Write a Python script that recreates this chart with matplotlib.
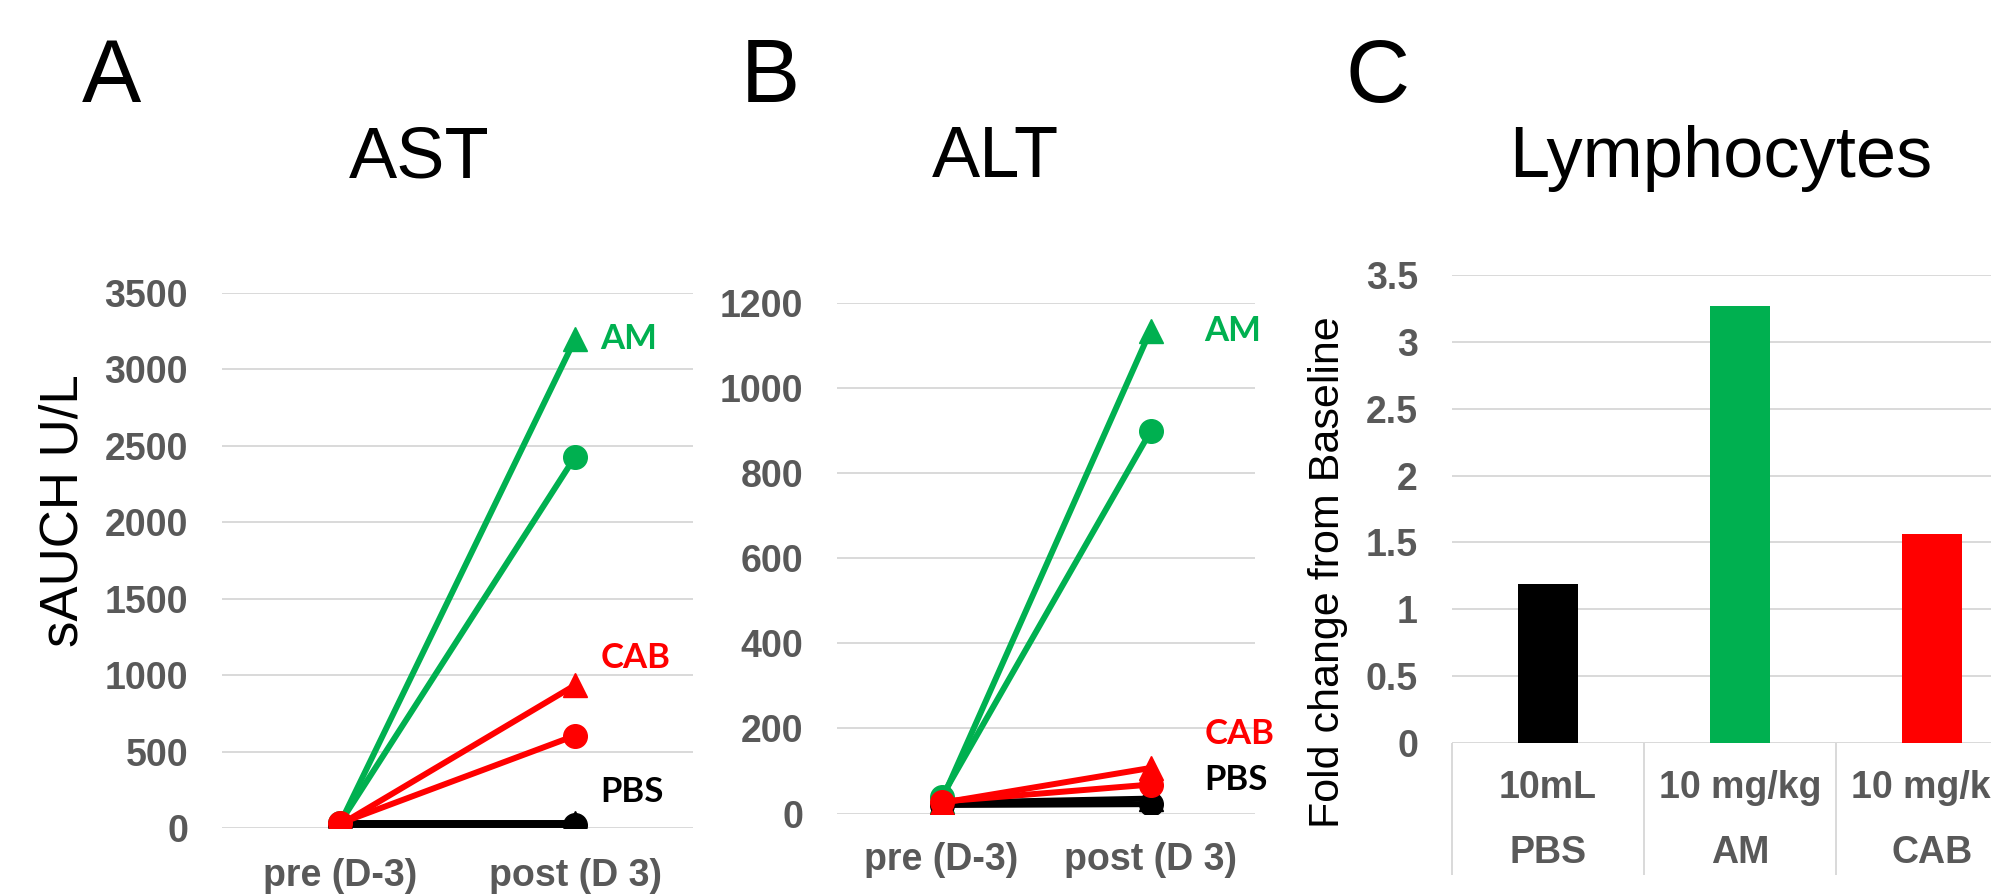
import matplotlib.pyplot as plt
import matplotlib.transforms as mtransforms
import numpy as np

plt.rcParams['font.family'] = ['Liberation Sans', 'DejaVu Sans']

GREEN = '#00B050'
RED = '#FF0000'
BLACK = '#000000'
GRID = '#D9D9D9'
TICK = '#595959'

timepoints = ['pre (D-3)', 'post (D 3)']

# AST (panel A), one list per animal: [pre, post]
ast_am_tri = [25, 3200]
ast_am_circ = [30, 2430]
ast_cab_tri = [20, 935]
ast_cab_circ = [30, 605]
ast_pbs_tri = [30, 30]
ast_pbs_circ = [20, 20]

# ALT (panel B)
alt_am_tri = [30, 1135]
alt_am_circ = [38, 898]
alt_cab_tri = [25, 107]
alt_cab_circ = [28, 68]
alt_pbs_tri = [25, 35]
alt_pbs_circ = [20, 22]

# Lymphocytes (panel C)
groups = ['PBS', 'AM', 'CAB']
doses = ['10mL', '10 mg/kg', '10 mg/kg']
fold_change = [1.19, 3.27, 1.56]
bar_colors = [BLACK, GREEN, RED]

fig = plt.figure(figsize=(19.91, 8.96), dpi=100)
W, H = 1991.0, 896.0


def line_panel(ax, series, ymax, ystep, xpad, labels):
    x = np.arange(len(timepoints))
    for vals, color, marker in series:
        ax.plot(x, vals, color=color, lw=4.3, marker=marker, ms=17,
                solid_capstyle='butt', zorder=3)
    ax.set_xlim(-0.5, 1.5)
    ax.set_ylim(0, ymax)
    ax.set_yticks(np.arange(0, ymax + 1, ystep))
    ax.set_xticks(x)
    ax.set_xticklabels(timepoints)
    ax.grid(axis='y', color=GRID, lw=1.4)
    ax.set_axisbelow(True)
    for s in ax.spines.values():
        s.set_visible(False)
    ax.tick_params(axis='y', length=0, pad=24.5, labelsize=27, labelcolor=TICK)
    ax.tick_params(axis='x', length=0, pad=xpad, labelsize=27, labelcolor=TICK)
    for lab in ax.get_xticklabels() + ax.get_yticklabels():
        lab.set_fontweight('bold')
    # group labels next to the post values
    for text, color, vals, dx, dy in labels:
        ax.annotate(text, xy=(1, vals[1]), xytext=(dx, dy),
                    textcoords='offset pixels', ha='left', va='center',
                    color=color, fontsize=25, fontweight='bold',
                    family=['Lato', 'DejaVu Sans'])


# ---- Panel A: AST ----
axA = fig.add_axes([222 / W, 1 - 828 / H, 471 / W, 535 / H])
line_panel(axA,
           [(ast_am_tri, GREEN, '^'), (ast_am_circ, GREEN, 'o'),
            (ast_pbs_tri, BLACK, '^'), (ast_pbs_circ, BLACK, 'o'),
            (ast_cab_tri, RED, '^'), (ast_cab_circ, RED, 'o')],
           3500, 500, 21.5,
           [('AM', GREEN, ast_am_tri, 25, 0),
            ('CAB', RED, ast_cab_tri, 25, 27),
            ('PBS', BLACK, ast_pbs_tri, 25, 31)])
axA.set_ylabel('sAUCH U/L', fontsize=38, va='center')
axA.yaxis.set_label_coords((64 - 222) / 471, (828 - 511) / 535)

# ---- Panel B: ALT ----
axB = fig.add_axes([837 / W, 1 - 813.5 / H, 418 / W, 510.5 / H])
line_panel(axB,
           [(alt_am_tri, GREEN, '^'), (alt_am_circ, GREEN, 'o'),
            (alt_pbs_tri, BLACK, '^'), (alt_pbs_circ, BLACK, 'o'),
            (alt_cab_tri, RED, '^'), (alt_cab_circ, RED, 'o')],
           1200, 200, 20.3,
           [('AM', GREEN, alt_am_tri, 54, 0),
            ('CAB', RED, alt_cab_tri, 54, 34),
            ('PBS', BLACK, alt_pbs_tri, 54, 19)])

# ---- Panel C: Lymphocytes ----
axC = fig.add_axes([1452 / W, 1 - 743 / H, 576 / W, 468 / H])
xc = np.arange(len(groups))
axC.bar(xc, fold_change, width=0.3125, color=bar_colors, zorder=3)
axC.set_xlim(-0.5, len(groups) - 0.5)
axC.set_ylim(0, 3.5)
axC.set_yticks(np.arange(0, 3.51, 0.5))
axC.set_yticklabels(['%g' % v for v in np.arange(0, 3.51, 0.5)])
axC.grid(axis='y', color=GRID, lw=1.4)
axC.set_axisbelow(True)
for s in axC.spines.values():
    s.set_visible(False)
axC.tick_params(axis='y', length=0, pad=24.5, labelsize=27, labelcolor=TICK)
for lab in axC.get_yticklabels():
    lab.set_fontweight('bold')
# category separators drawn as long minor ticks
axC.set_xticks(xc)
axC.set_xticklabels([])
axC.tick_params(axis='x', which='major', length=0)
axC.set_xticks(np.arange(-0.5, len(groups)), minor=True)
axC.tick_params(axis='x', which='minor', length=95, width=1.4, color=GRID,
                direction='out')
trans = mtransforms.blended_transform_factory(axC.transData, axC.transAxes)
for i in range(len(groups)):
    axC.annotate(doses[i], xy=(xc[i], 0), xycoords=trans, xytext=(0, -45),
                 textcoords='offset pixels', ha='center', va='center',
                 fontsize=27, fontweight='bold', color=TICK,
                 annotation_clip=False)
    axC.annotate(groups[i], xy=(xc[i], 0), xycoords=trans, xytext=(0, -110),
                 textcoords='offset pixels', ha='center', va='center',
                 fontsize=27, fontweight='bold', color=TICK,
                 annotation_clip=False)
axC.set_ylabel('Fold change from Baseline', fontsize=31, va='center')
axC.yaxis.set_label_coords((1328 - 1452) / 576, (743 - 572) / 468)

# ---- panel letters and titles ----
for txt, xpx in [('A', 111), ('B', 770), ('C', 1378)]:
    fig.text(xpx / W, 1 - 102 / H, txt, ha='center', va='baseline', fontsize=64)
for txt, xpx in [('AST', 419), ('ALT', 995), ('Lymphocytes', 1721)]:
    fig.text(xpx / W, 1 - 177 / H, txt, ha='center', va='baseline', fontsize=52)

fig.savefig('out.png', dpi=100)
